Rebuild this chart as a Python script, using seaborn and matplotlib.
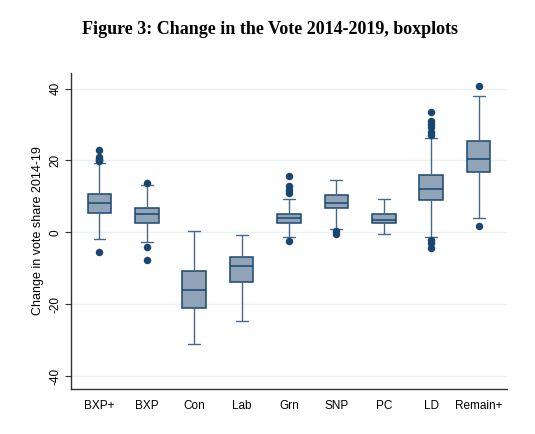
import numpy as np
import pandas as pd
import matplotlib
matplotlib.use("Agg")
import matplotlib.pyplot as plt
import seaborn as sns

parties = ["BXP+", "BXP", "Con", "Lab", "Grn", "SNP", "PC", "LD", "Remain+"]
whisker_low = [-1.85, -2.7, -31.0, -24.5, -1.3, 0.9, -0.4, -1.3, 4.15]
q1 = [5.35, 2.7, -21.05, -13.7, 2.6, 6.75, 2.5, 9.15, 16.9]
median = [8.1, 5.0, -15.9, -9.25, 3.9, 8.3, 3.6, 12.1, 20.5]
q3 = [10.8, 6.8, -10.6, -6.75, 5.1, 10.4, 5.2, 15.9, 25.4]
whisker_high = [19.2, 13.2, 0.45, -0.8, 9.3, 14.6, 9.3, 26.2, 37.9]

outlier_party = ["BXP+", "BXP+", "BXP+", "BXP+", "BXP+", "BXP+",
                 "BXP", "BXP", "BXP",
                 "Grn", "Grn", "Grn", "Grn", "Grn",
                 "SNP", "SNP",
                 "LD", "LD", "LD", "LD", "LD", "LD", "LD", "LD", "LD",
                 "Remain+", "Remain+"]
outlier_value = [23.0, 21.0, 20.5, 20.0, 19.8, -5.45,
                 13.85, -4.0, -7.75,
                 15.7, 12.8, 11.9, 11.0, -2.3,
                 0.4, -0.3,
                 33.4, 31.1, 30.2, 29.3, 27.9, 27.0, -2.1, -2.9, -4.25,
                 40.7, 1.85]

ytick_vals = [-40, -20, 0, 20, 40]

sns.set_style("white")
plt.rcParams["font.family"] = ["Liberation Sans", "DejaVu Sans"]
plt.rcParams["text.color"] = "black"
plt.rcParams["axes.labelcolor"] = "black"
plt.rcParams["xtick.labelcolor"] = "black"
plt.rcParams["ytick.labelcolor"] = "black"

navy = "#1a476f"
fill = "#90a3b7"
whisk = "#44698c"

rows = []
for i, p in enumerate(parties):
    for v in (whisker_low[i], q1[i], median[i], q3[i], whisker_high[i]):
        rows.append({"party": p, "value": v})
df = pd.DataFrame(rows)
out_df = pd.DataFrame({"party": outlier_party, "value": outlier_value})

fig = plt.figure(figsize=(5.35, 4.34), dpi=100)
ax = fig.add_axes([0.1327, 0.1037, 0.815, 0.728])

for y in ytick_vals:
    ax.axhline(y, color="#eaf1f3", lw=1.0, zorder=0)

sns.boxplot(data=df, x="party", y="value", order=parties, whis=(0, 100),
            width=0.5, color=fill, saturation=1, linecolor=navy, linewidth=1.1,
            showfliers=False, ax=ax,
            whiskerprops=dict(color=whisk, lw=1.0),
            capprops=dict(color=whisk, lw=1.0),
            medianprops=dict(color=navy, lw=1.1),
            boxprops=dict(edgecolor=navy, lw=1.1))

sns.stripplot(data=out_df, x="party", y="value", order=parties, jitter=False,
              color=navy, size=5.4, linewidth=0, ax=ax, zorder=5)

ax.set_xlim(-0.6, 8.6)
ax.set_ylim(-43.5, 44.3)
ax.set_yticks(ytick_vals)
ax.set_yticklabels([str(v) for v in ytick_vals], rotation=90, va="center", fontsize=8.5)
ax.set_xticks(range(len(parties)))
ax.set_xticklabels(parties, fontsize=8.5)
ax.tick_params(axis="x", length=0, pad=8)
ax.tick_params(axis="y", length=4, width=0.8, color="#333333", pad=3, left=True)
ax.set_xlabel("")
ax.set_ylabel("Change in vote share 2014-19", fontsize=9, labelpad=4)

for s in ["top", "right"]:
    ax.spines[s].set_visible(False)
for s in ["left", "bottom"]:
    ax.spines[s].set_color("#333333")
    ax.spines[s].set_linewidth(1.0)

fig.text(0.504, 0.931, "Figure 3: Change in the Vote 2014-2019, boxplots",
         ha="center", va="center", fontsize=13, fontweight="bold",
         family="Liberation Serif", color="black")

fig.savefig("out.png", dpi=100)
